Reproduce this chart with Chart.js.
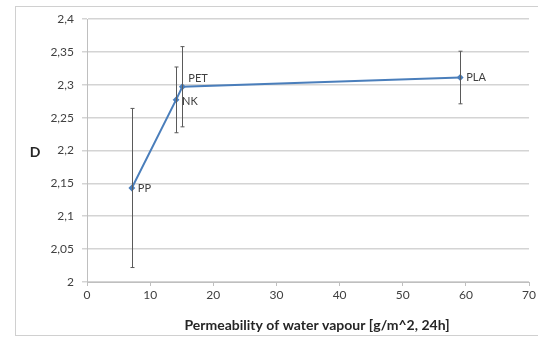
<!DOCTYPE html>
<html>
<head>
<meta charset="utf-8">
<script src="https://cdn.jsdelivr.net/npm/chart.js@4/dist/chart.umd.min.js"></script>
<style>
html,body{margin:0;padding:0;background:#fff;}
#wrap{width:538px;height:338px;position:relative;}
</style>
</head>
<body>
<div id="wrap"><canvas id="c" width="538" height="338"></canvas></div>
<script>
const materials = ["PP", "NK", "PET", "PLA"];
const permeability = [7.1, 14.1, 15.1, 59.1];
const dValues = [2.143, 2.277, 2.297, 2.311];
const dError = [0.121, 0.05, 0.061, 0.04];
const xTickLabels = ["0", "10", "20", "30", "40", "50", "60", "70"];
const yTickLabels = ["2", "2,05", "2,1", "2,15", "2,2", "2,25", "2,3", "2,35", "2,4"];
const xTitle = "Permeability of water vapour [g/m^2, 24h]";
const yTitle = "D";

const FONT = "Lato, 'Open Sans', sans-serif";

const extras = {
  id: 'extras',
  beforeDraw(chart) {
    const ctx = chart.ctx;
    ctx.save();
    ctx.strokeStyle = '#d0d0d0';
    ctx.lineWidth = 1;
    ctx.strokeRect(15.5, 6.5, 540, 329);
    ctx.restore();
  },
  afterDatasetsDraw(chart) {
    const ctx = chart.ctx;
    const xs = chart.scales.x, ys = chart.scales.y;
    ctx.save();
    // error bars
    ctx.strokeStyle = '#5a5a5a';
    ctx.lineWidth = 1;
    for (let i = 0; i < materials.length; i++) {
      const px = Math.round(xs.getPixelForValue(permeability[i])) + 0.5;
      const top = ys.getPixelForValue(dValues[i] + dError[i]);
      const bot = ys.getPixelForValue(dValues[i] - dError[i]);
      ctx.beginPath();
      ctx.moveTo(px, top); ctx.lineTo(px, bot);
      ctx.moveTo(px - 2, top); ctx.lineTo(px + 2, top);
      ctx.moveTo(px - 2, bot); ctx.lineTo(px + 2, bot);
      ctx.stroke();
    }
    // point labels
    ctx.fillStyle = '#404040';
    ctx.font = "11px " + FONT;
    ctx.textBaseline = 'middle';
    ctx.textAlign = 'left';
    const offs = [[6, 0], [6, 2], [6, -8], [6, 0]];
    for (let i = 0; i < materials.length; i++) {
      const px = xs.getPixelForValue(permeability[i]);
      const py = ys.getPixelForValue(dValues[i]);
      ctx.fillText(materials[i], px + offs[i][0], py + offs[i][1]);
    }
    // axis titles
    ctx.fillStyle = '#262626';
    ctx.font = "bold 14px " + FONT;
    ctx.textAlign = 'center';
    ctx.fillText(yTitle, 35, 152);
    ctx.fillText(xTitle, 317, 325);
    ctx.restore();
  }
};

new Chart(document.getElementById('c'), {
  type: 'line',
  data: {
    datasets: [{
      label: 'D',
      data: permeability.map((x, i) => ({ x: x, y: dValues[i] })),
      borderColor: '#4a7ebb',
      backgroundColor: '#4a7ebb',
      borderWidth: 2,
      pointRadius: 2,
      pointStyle: 'rectRot',
      tension: 0
    }]
  },
  options: {
    responsive: false,
    animation: false,
    layout: { padding: { left: 0, right: 8, top: 19, bottom: 0 } },
    plugins: { legend: { display: false }, tooltip: { enabled: false } },
    scales: {
      x: {
        type: 'linear',
        min: 0, max: 70,
        afterFit(s) { s.height = 56; },
        afterBuildTicks(s) { s.ticks = xTickLabels.map((t, i) => ({ value: i * 10 })); },
        ticks: {
          callback: (v, i) => xTickLabels[i],
          color: '#404040',
          font: { family: FONT, size: 12 },
          padding: 2,
          maxRotation: 0
        },
        grid: { drawOnChartArea: false, color: '#bfbfbf', tickLength: 4 },
        border: { color: '#bfbfbf' }
      },
      y: {
        type: 'linear',
        min: 2, max: 2.4,
        afterFit(s) { s.width = 87; },
        afterBuildTicks(s) { s.ticks = yTickLabels.map((t, i) => ({ value: 2 + i * 0.05 })); },
        ticks: {
          callback: (v, i) => yTickLabels[i],
          color: '#404040',
          font: { family: FONT, size: 12 },
          padding: 8
        },
        grid: { color: '#d4d4d4', tickLength: 5, lineWidth: 1.5 },
        border: { color: '#bfbfbf' }
      }
    }
  },
  plugins: [extras]
});
</script>
</body>
</html>
